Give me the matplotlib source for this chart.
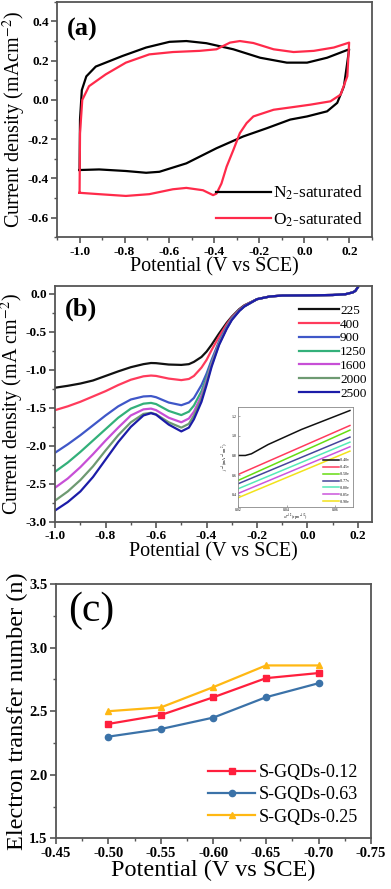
import numpy as np
import matplotlib.pyplot as plt
from matplotlib.ticker import MultipleLocator

plt.rcParams['font.family'] = ['Liberation Serif', 'DejaVu Serif']
plt.rcParams['mathtext.fontset'] = 'stix'

# (a) cyclic voltammetry, N2 and O2 saturated
n2_x = [-1.0, -0.998, -0.99, -0.97, -0.928, -0.809, -0.704, -0.6, -0.525, -0.436, -0.316,
        -0.197, -0.078, 0.012, 0.101, 0.199,
        0.176, 0.146, 0.101, 0.012, -0.063, -0.167, -0.272, -0.391, -0.525, -0.645,
        -0.704, -0.794, -0.913, -1.0]
n2_y = [-0.357, -0.1, 0.05, 0.12, 0.17, 0.224, 0.267, 0.296, 0.3, 0.289, 0.258,
        0.215, 0.19, 0.19, 0.215, 0.258,
        0.07, -0.015, -0.058, -0.084, -0.1, -0.144, -0.186, -0.246, -0.323, -0.366,
        -0.371, -0.362, -0.354, -0.357]
o2_x = [-1.0, -0.998, -0.988, -0.958, -0.884, -0.794, -0.69, -0.585, -0.466, -0.391, -0.331,
        -0.287, -0.227, -0.137, -0.048, 0.042, 0.131, 0.199,
        0.191, 0.161, 0.116, 0.027, -0.048, -0.137, -0.227, -0.257, -0.287, -0.316,
        -0.346, -0.369, -0.391, -0.406, -0.451, -0.525, -0.585, -0.69, -0.794, -0.913, -1.0]
o2_y = [-0.473, -0.169, 0.0, 0.07, 0.13, 0.19, 0.232, 0.244, 0.25, 0.258, 0.292,
        0.3, 0.29, 0.258, 0.244, 0.25, 0.267, 0.292,
        0.121, 0.027, -0.007, -0.024, -0.036, -0.05, -0.084, -0.118, -0.169, -0.255,
        -0.34, -0.426, -0.477, -0.485, -0.46, -0.448, -0.455, -0.48, -0.489, -0.48, -0.473]

# (b) LSV at different rotation rates (rpm)
lsv_x = [-1.0, -0.95, -0.9, -0.85, -0.8, -0.75, -0.7, -0.65, -0.62, -0.6, -0.55, -0.5,
         -0.47, -0.45, -0.42, -0.4, -0.38, -0.35, -0.32, -0.3, -0.27, -0.25, -0.2,
         -0.15, -0.1, 0.0, 0.1, 0.15, 0.18, 0.19, 0.2]
tail = [-0.035, -0.022, -0.02, -0.015, -0.005, 0.02, 0.04, 0.09]
rpm_labels = ['225', '400', '900', '1250', '1600', '2000', '2500']
j225 = [-1.235, -1.21, -1.18, -1.14, -1.08, -1.02, -0.965, -0.925, -0.91, -0.912, -0.93, -0.935,
        -0.925, -0.895, -0.83, -0.76, -0.67, -0.52, -0.38, -0.3, -0.2, -0.15, -0.07] + tail
j400 = [-1.53, -1.48, -1.42, -1.35, -1.28, -1.2, -1.13, -1.085, -1.075, -1.08, -1.115, -1.135,
        -1.12, -1.08, -0.97, -0.87, -0.74, -0.56, -0.4, -0.31, -0.21, -0.155, -0.07] + tail
j900 = [-2.09, -1.98, -1.86, -1.73, -1.6, -1.48, -1.39, -1.35, -1.345, -1.36, -1.43, -1.465,
        -1.43, -1.37, -1.2, -1.05, -0.87, -0.62, -0.43, -0.32, -0.215, -0.16, -0.07] + tail
j1250 = [-2.34, -2.22, -2.08, -1.93, -1.78, -1.63, -1.51, -1.445, -1.435, -1.45, -1.54, -1.595,
         -1.55, -1.47, -1.28, -1.1, -0.9, -0.64, -0.44, -0.33, -0.22, -0.165, -0.07] + tail
j1600 = [-2.55, -2.43, -2.28, -2.11, -1.93, -1.76, -1.6, -1.52, -1.51, -1.53, -1.63, -1.69,
         -1.64, -1.55, -1.34, -1.14, -0.92, -0.65, -0.45, -0.335, -0.22, -0.165, -0.07] + tail
j2000 = [-2.72, -2.6, -2.45, -2.27, -2.06, -1.86, -1.69, -1.58, -1.565, -1.585, -1.69, -1.76,
         -1.71, -1.6, -1.38, -1.17, -0.94, -0.66, -0.455, -0.34, -0.22, -0.165, -0.07] + tail
j2500 = [-2.85, -2.74, -2.6, -2.41, -2.18, -1.95, -1.75, -1.6, -1.57, -1.59, -1.72, -1.81,
         -1.76, -1.65, -1.42, -1.2, -0.96, -0.67, -0.46, -0.345, -0.225, -0.165, -0.07] + tail
lsv_colors = ['#111111', '#ff3b5c', '#3f57c8', '#33b07a', '#c74fd6', '#6e9a72', '#1c1ca8']

# (b) inset: Koutecky-Levich plots
kl_x_black = [0.02, 0.023, 0.0255, 0.0324, 0.0462, 0.0662]
kl_black = [0.80, 0.80, 0.817, 0.911, 1.064, 1.256]
kl_x = [0.02, 0.0662]
kl_labels = ['-0.40v', '-0.45v', '-0.50v', '-0.77v', '-0.80v', '-0.85v', '-0.90v']
kl_lines = [[0.607, 1.104],
            [0.547, 1.057],
            [0.513, 0.986],
            [0.462, 0.935],
            [0.415, 0.888],
            [0.371, 0.844]]
kl_colors = ['#111111', '#ff3b5c', '#66dd11', '#45459a', '#55eab8', '#cc55dd', '#f2e21a']

# (c) electron transfer number
pot_c = [-0.50, -0.55, -0.60, -0.65, -0.70]
n_012 = [2.40, 2.47, 2.61, 2.76, 2.80]
n_063 = [2.30, 2.36, 2.45, 2.61, 2.72]
n_025 = [2.50, 2.53, 2.69, 2.86, 2.86]

fig = plt.figure(figsize=(3.91, 8.89), dpi=100)

def style(ax, tsize=9.5, bold=True):
    for s in ax.spines.values():
        s.set_color('#555555')
        s.set_linewidth(1.3)
    ax.tick_params(which='both', direction='out', top=False, right=False,
                   labelsize=tsize, color='#555555', pad=2)
    ax.tick_params(which='major', length=4, width=1.2)
    ax.tick_params(which='minor', length=2.5, width=1.0)
    for lab in ax.get_xticklabels() + ax.get_yticklabels():
        lab.set_fontweight('bold' if bold else 'normal')

# ---- (a)
ax1 = fig.add_axes([0.146, 0.733, 0.805, 0.265])
ax1.plot(n2_x, n2_y, color='black', lw=1.6, label='N$_2$-saturated')
ax1.plot(o2_x, o2_y, color='#ff2a4a', lw=1.6, label='O$_2$-saturated')
ax1.set_xlim(-1.1, 0.3)
ax1.set_ylim(-0.7, 0.5)
ax1.set_xticks([-1.0, -0.8, -0.6, -0.4, -0.2, 0.0, 0.2])
ax1.set_xticklabels(['-1.0', '-0.8', '-0.6', '-0.4', '-0.2', '0.0', '0.2'])
ax1.xaxis.set_minor_locator(MultipleLocator(0.1))
ax1.set_yticks([-0.6, -0.4, -0.2, 0.0, 0.2, 0.4])
ax1.set_yticklabels(['-0.6', '-0.4', '-0.2', '0.0', '0.2', '0.4'])
ax1.yaxis.set_minor_locator(MultipleLocator(0.1))
style(ax1)
ax1.set_xlabel('Potential (V vs SCE)', fontsize=14.5, labelpad=0)
ax1.set_ylabel('Current density (mAcm$^{-2}$)', fontsize=14.5, labelpad=0)
ax1.text(0.03, 0.93, '(a)', transform=ax1.transAxes, fontsize=19, fontweight='bold',
         va='top', ha='left')
ax1.legend(loc='lower right', frameon=False, fontsize=12.5, handlelength=3.2,
           handletextpad=0.1, borderaxespad=0.1, labelspacing=0.45)

# ---- (b)
ax2 = fig.add_axes([0.141, 0.413, 0.810, 0.265])
for jv, lab, c in zip([j225, j400, j900, j1250, j1600, j2000, j2500], rpm_labels, lsv_colors):
    ax2.plot(lsv_x, jv, color=c, lw=1.6, label=lab)
ax2.set_xlim(-1.0, 0.255)
ax2.set_ylim(-3.0, 0.1)
ax2.set_xticks([-1.0, -0.8, -0.6, -0.4, -0.2, 0.0, 0.2])
ax2.set_xticklabels(['-1.0', '-0.8', '-0.6', '-0.4', '-0.2', '0.0', '0.2'])
ax2.xaxis.set_minor_locator(MultipleLocator(0.1))
ax2.set_yticks([-3.0, -2.5, -2.0, -1.5, -1.0, -0.5, 0.0])
ax2.set_yticklabels(['-3.0', '-2.5', '-2.0', '-1.5', '-1.0', '-0.5', '0.0'])
ax2.yaxis.set_minor_locator(MultipleLocator(0.25))
style(ax2)
ax2.set_xlabel('Potential (V vs SCE)', fontsize=14.5, labelpad=0)
ax2.set_ylabel('Current density (mA cm$^{-2}$)', fontsize=14.5, labelpad=0)
ax2.text(0.03, 0.95, '(b)', transform=ax2.transAxes, fontsize=19, fontweight='bold',
         va='top', ha='left')
ax2.legend(loc='upper right', frameon=False, fontsize=9.5, handlelength=3.0,
           handletextpad=0.1, borderaxespad=0.0, labelspacing=0.12,
           bbox_to_anchor=(1.0, 0.945))

# inset
axi = fig.add_axes([0.609, 0.430, 0.294, 0.112])
axi.plot(kl_x_black, kl_black, color=kl_colors[0], lw=1.1, label=kl_labels[0])
for yv, lab, c in zip(kl_lines, kl_labels[1:], kl_colors[1:]):
    axi.plot(kl_x, yv, color=c, lw=1.1, label=lab)
axi.set_xlim(0.02, 0.0675)
axi.set_ylim(0.28, 1.29)
axi.set_xticks([0.02, 0.04, 0.06])
axi.set_yticks([0.4, 0.6, 0.8, 1.0, 1.2])
for s in axi.spines.values():
    s.set_color('#888888')
    s.set_linewidth(0.6)
axi.tick_params(labelsize=2.8, length=1.5, width=0.5, direction='in', pad=1, color='#888888')
axi.set_xlabel('$\\omega^{-1/2}$(rpm$^{-1/2}$)', fontsize=2.8, labelpad=0.5)
axi.set_ylabel('$j^{-1}$(mA$^{-1}$cm$^{2}$)', fontsize=3.2, labelpad=0.5)
axi.legend(loc='lower right', frameon=False, fontsize=2.8, handlelength=4,
           handletextpad=0.3, labelspacing=0.75, borderaxespad=0.4)

# ---- (c)
ax3 = fig.add_axes([0.143, 0.057, 0.806, 0.286])
ax3.plot(pot_c, n_012, color='#ff1f3d', lw=1.6, marker='s', ms=4.5, label='S-GQDs-0.12')
ax3.plot(pot_c, n_063, color='#3b72a8', lw=1.6, marker='o', ms=4.5, label='S-GQDs-0.63')
ax3.plot(pot_c, n_025, color='#ffb813', lw=1.6, marker='^', ms=5, label='S-GQDs-0.25')
ax3.set_xlim(-0.45, -0.75)
ax3.set_ylim(1.5, 3.5)
ax3.set_xticks([-0.45, -0.50, -0.55, -0.60, -0.65, -0.70, -0.75])
ax3.set_xticklabels(['-0.45', '-0.50', '-0.55', '-0.60', '-0.65', '-0.70', '-0.75'])
ax3.xaxis.set_minor_locator(MultipleLocator(0.025))
ax3.set_yticks([1.5, 2.0, 2.5, 3.0, 3.5])
ax3.set_yticklabels(['1.5', '2.0', '2.5', '3.0', '3.5'])
ax3.yaxis.set_minor_locator(MultipleLocator(0.25))
style(ax3, tsize=10.5)
ax3.set_xlabel('Potential (V vs SCE)', fontsize=17.5, labelpad=0)
ax3.set_ylabel('Electron transfer number (n)', fontsize=17.5, labelpad=1)
ax3.text(0.04, 0.97, '(c)', transform=ax3.transAxes, fontsize=30,
         va='top', ha='left')
ax3.legend(loc='lower right', frameon=False, fontsize=13, handlelength=2.6,
           handletextpad=0.2, borderaxespad=0.3, labelspacing=0.3)

fig.savefig('out.png', dpi=100)
